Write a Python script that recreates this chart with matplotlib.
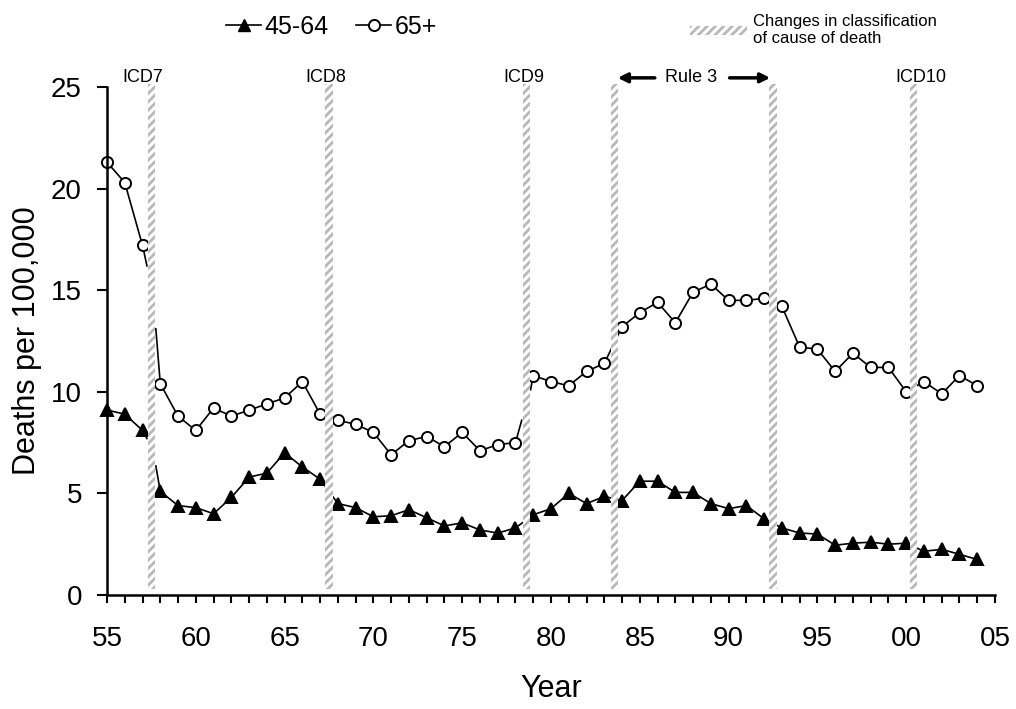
import numpy as np
import matplotlib
matplotlib.use("Agg")
import matplotlib.pyplot as plt
from matplotlib.lines import Line2D
from matplotlib.patches import Patch

plt.rcParams['font.family'] = ['Liberation Sans', 'DejaVu Sans']
plt.rcParams['hatch.linewidth'] = 2.0

# data (two-digit years, 55 = 1955 ... 104 = 2004)
years = np.arange(55, 105)
rate_45_64 = [9.1, 8.9, 8.1, 5.1, 4.4, 4.3, 4.0, 4.8, 5.8, 6.0,
              7.0, 6.3, 5.7, 4.5, 4.3, 3.85, 3.9, 4.2, 3.8, 3.4,
              3.55, 3.2, 3.05, 3.3, 3.95, 4.25, 5.0, 4.5, 4.85, 4.65,
              5.6, 5.6, 5.05, 5.05, 4.5, 4.25, 4.4, 3.75, 3.3, 3.05,
              3.0, 2.45, 2.55, 2.6, 2.5, 2.55, 2.15, 2.25, 2.0, 1.75]
rate_65_plus = [21.3, 20.3, 17.2, 10.4, 8.8, 8.1, 9.2, 8.8, 9.1, 9.4,
                9.7, 10.5, 8.9, 8.6, 8.4, 8.0, 6.9, 7.6, 7.8, 7.3,
                8.0, 7.1, 7.4, 7.5, 10.8, 10.5, 10.3, 11.0, 11.4, 13.2,
                13.9, 14.4, 13.4, 14.9, 15.3, 14.5, 14.5, 14.6, 14.2, 12.2,
                12.1, 11.0, 11.9, 11.2, 11.2, 10.0, 10.5, 9.9, 10.8, 10.3]

# series breaks: (break year, value where old line ends, value where new line starts)
breaks_45_64 = [(57.5, 7.7, 6.35)]
breaks_65_plus = [(57.5, 16.2, 13.1), (78.6, 8.6, 10.1)]

# changes in classification of cause of death
icd_changes = [57.5, 67.5, 78.6, 83.6, 92.5, 100.4]
icd_labels = ['ICD7', 'ICD8', 'ICD9', 'ICD10']
icd_label_x = [57.0, 67.3, 78.5, 100.8]

xtick_pos = np.arange(55, 106, 5)
xtick_labels = ['55', '60', '65', '70', '75', '80', '85', '90', '95', '00', '05']


def draw_series(ax, x, y, breaks, marker, ms, mfc):
    x = np.asarray(x, float)
    y = np.asarray(y, float)
    cuts = [x[0] - 1] + [b[0] for b in breaks] + [x[-1] + 1]
    for i in range(len(cuts) - 1):
        m = (x > cuts[i]) & (x < cuts[i + 1])
        sx, sy = list(x[m]), list(y[m])
        if i > 0:
            sx.insert(0, breaks[i - 1][0] + 0.25)
            sy.insert(0, breaks[i - 1][2])
        if i < len(breaks):
            sx.append(breaks[i][0] - 0.25)
            sy.append(breaks[i][1])
        ax.plot(sx, sy, color='black', lw=1.2, zorder=2, clip_on=False)
    ax.plot(x, y, ls='none', marker=marker, ms=ms, mfc=mfc, mec='black',
            mew=1.4, zorder=2.5, clip_on=False)


fig = plt.figure(figsize=(10.16, 7.09), dpi=100)
ax = fig.add_axes([107 / 1016, 114 / 709, 888 / 1016, 508 / 709])

draw_series(ax, years, rate_45_64, breaks_45_64, '^', 9, 'black')
draw_series(ax, years, rate_65_plus, breaks_65_plus, 'o', 8, 'white')

for xc in icd_changes:
    ax.axvspan(xc - 0.2, xc + 0.2, ymin=0.012, ymax=1.005, facecolor='white',
               edgecolor='#b8b8b8', hatch='////', lw=0, zorder=3, clip_on=False)

for lab, xl in zip(icd_labels, icd_label_x):
    ax.text(xl, 25.45, lab, ha='center', va='center', fontsize=13,
            clip_on=False, zorder=5)

ax.text(87.9, 25.45, 'Rule 3', ha='center', va='center', fontsize=13, zorder=5)
ax.annotate('', xy=(83.6, 25.45), xytext=(86.0, 25.45), annotation_clip=False,
            arrowprops=dict(arrowstyle='-|>', lw=2.5, color='black', mutation_scale=14))
ax.annotate('', xy=(92.5, 25.45), xytext=(89.9, 25.45), annotation_clip=False,
            arrowprops=dict(arrowstyle='-|>', lw=2.5, color='black', mutation_scale=14))

ax.set_xlim(55, 105)
ax.set_ylim(0, 25)
ax.set_xticks(xtick_pos)
ax.set_xticklabels(xtick_labels)
ax.set_xticks(np.arange(55, 106, 1), minor=True)
ax.set_yticks(np.arange(0, 26, 5))
ax.tick_params(axis='x', which='both', direction='out', length=6, width=1.5,
               labelsize=20, pad=16)
ax.tick_params(axis='y', which='major', direction='out', length=7, width=1.5,
               labelsize=20, pad=11)
for s in ['top', 'right']:
    ax.spines[s].set_visible(False)
for s in ['left', 'bottom']:
    ax.spines[s].set_linewidth(1.8)

ax.set_xlabel('Year', fontsize=22)
ax.set_ylabel('Deaths per 100,000', fontsize=22)
ax.xaxis.set_label_coords(0.5, -0.155)
ax.yaxis.set_label_coords(-0.073, 0.5)

handles = [Line2D([], [], color='black', lw=1.2, marker='^', ms=9, mfc='black'),
           Line2D([], [], color='black', lw=1.2, marker='o', ms=8, mfc='white', mew=1.4)]
fig.legend(handles, ['45-64', '65+'], loc='center left',
           bbox_to_anchor=(226 / 1016, 1 - 27 / 709), ncol=2, frameon=False,
           fontsize=18, handlelength=1.4, handletextpad=0.15, columnspacing=1.1,
           borderpad=0, borderaxespad=0)

hatch_handle = Patch(facecolor='white', edgecolor='#b8b8b8', hatch='////', lw=0)
fig.legend([hatch_handle], ['Changes in classification\nof cause of death'],
           loc='center left', bbox_to_anchor=(690 / 1016, 1 - 30 / 709),
           frameon=False, fontsize=12, handlelength=3.4, handleheight=0.45,
           handletextpad=0.4, borderpad=0, borderaxespad=0)

fig.savefig('out.png', dpi=100)
